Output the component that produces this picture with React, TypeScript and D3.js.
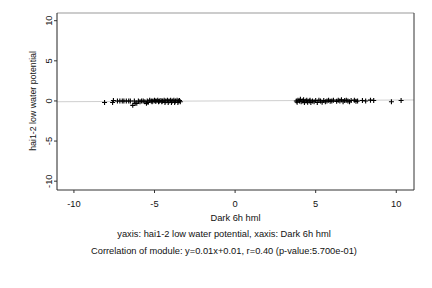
import * as d3 from 'd3';

// scatter points: x = Dark 6h hml, y = hai1-2 low water potential
const leftX = [-8.1, -7.6, -7.55, -7.3, -7.15, -7.0, -6.9, -6.75, -6.6, -6.5, -6.35, -6.25, -6.2, -6.1, -6.0, -5.9, -5.8, -5.7, -5.6, -5.5, -5.45, -5.4, -5.3, -5.2, -5.15, -5.1, -5.0, -4.95, -4.9, -4.8, -4.75, -4.7, -4.6, -4.55, -4.5, -4.4, -4.35, -4.3, -4.2, -4.15, -4.1, -4.0, -3.95, -3.9, -3.8, -3.75, -3.7, -3.6, -3.55, -3.5, -3.45, -3.4];
const leftY = [-0.2, -0.2, 0.05, 0, 0, 0, 0, 0, 0, 0, -0.55, 0, -0.3, -0.3, 0, -0.1, 0, 0, -0.1, -0.3, 0, -0.2, 0.1, 0, -0.1, 0, 0.1, -0.05, 0, 0.1, -0.1, 0, 0.05, -0.1, 0, 0.1, -0.2, 0, 0.1, -0.2, 0, 0.1, -0.2, 0, 0.1, -0.2, 0, 0.1, -0.2, 0, 0.05, -0.1];
const rightX = [3.8, 3.85, 3.9, 4.0, 4.05, 4.1, 4.2, 4.25, 4.3, 4.4, 4.45, 4.5, 4.6, 4.65, 4.7, 4.8, 4.9, 5.0, 5.1, 5.2, 5.3, 5.4, 5.5, 5.6, 5.7, 5.8, 5.9, 6.0, 6.1, 6.3, 6.4, 6.5, 6.6, 6.7, 6.8, 6.9, 7.0, 7.1, 7.2, 7.4, 7.5, 7.6, 7.9, 8.1, 8.4, 8.6, 9.7, 10.3];
const rightY = [0, -0.15, 0.1, 0, 0.2, -0.1, 0, 0.15, -0.2, 0, 0.1, -0.15, 0, 0.1, -0.2, 0, -0.1, 0.05, -0.2, 0.1, 0, -0.15, 0.05, -0.1, 0, 0.1, -0.05, 0, 0.1, -0.05, 0.1, 0, 0.15, -0.1, 0.05, 0.1, 0, -0.1, 0.05, 0.1, -0.05, 0, 0.05, 0, 0.1, 0.05, -0.1, 0.05];

const xTicks = [-10, -5, 0, 5, 10];
const yTicks = [-10, -5, 0, 5, 10];

// fitted line y = 0.01x + 0.01
const fitSlope = 0.01;
const fitIntercept = 0.01;

const xLabel = 'Dark 6h hml';
const yLabel = 'hai1-2 low water potential';
const caption1 = 'yaxis: hai1-2 low water potential, xaxis: Dark 6h hml';
const caption2 = 'Correlation of module: y=0.01x+0.01, r=0.40 (p-value:5.700e-01)';

const App = () => {
    const margin = { top: 13, right: 18, bottom: 98, left: 57 };
    const width = 432;
    const height = 288;
    const innerRight = width - margin.right;
    const innerBottom = height - margin.bottom;

    const x = d3.scaleLinear().domain([-11.05, 11.1]).range([margin.left, innerRight]);
    const y = d3.scaleLinear().domain([-11.1, 10.96]).range([innerBottom, margin.top]);

    const points = [
        ...leftX.map((v, i) => ({ x: v, y: leftY[i] })),
        ...rightX.map((v, i) => ({ x: v, y: rightY[i] })),
    ];

    const [x0, x1] = x.domain();
    const fitLine = d3.line<number>()
        .x(d => x(d))
        .y(d => y(fitSlope * d + fitIntercept));

    const font = '"Liberation Sans", Arial, sans-serif';
    const cx = (margin.left + innerRight) / 2;
    const captionX = 224;

    return (
        <svg width={width} height={height}
            style={{ position: 'absolute', left: 0, top: 0, background: '#fff' }}
            fontFamily={font} fontSize={9.3} fill="#111">
            {/* fitted line */}
            <path d={fitLine([x0, x1]) ?? ''} stroke="#cfcfcf" strokeWidth={1} fill="none" />

            {/* points */}
            {points.map((p, i) => {
                const px = x(p.x);
                const py = y(p.y);
                return (
                    <path key={i}
                        d={`M${px - 2.5},${py}H${px + 2.5}M${px},${py - 2.5}V${py + 2.5}`}
                        stroke="#000" strokeWidth={1.1} />
                );
            })}

            {/* box */}
            <line x1={margin.left} x2={innerRight} y1={margin.top} y2={margin.top} stroke="#999" />
            <line x1={margin.left} x2={innerRight} y1={innerBottom} y2={innerBottom} stroke="#333" />
            <line x1={margin.left} x2={margin.left} y1={margin.top} y2={innerBottom} stroke="#222" />
            <line x1={innerRight} x2={innerRight} y1={margin.top} y2={innerBottom} stroke="#333" />

            {/* x axis */}
            {xTicks.map(t => (
                <g key={t}>
                    <line x1={x(t)} x2={x(t)} y1={innerBottom} y2={innerBottom + 3} stroke="#333" />
                    <text x={x(t)} y={innerBottom + 17} textAnchor="middle">{t}</text>
                </g>
            ))}
            <text x={cx} y={innerBottom + 31} textAnchor="middle">{xLabel}</text>

            {/* y axis */}
            {yTicks.map(t => (
                <g key={t}>
                    <line x1={margin.left - 3} x2={margin.left} y1={y(t)} y2={y(t)} stroke="#333" />
                    <text transform={`translate(${margin.left - 5},${y(t)}) rotate(-90)`}
                        textAnchor="middle">{t}</text>
                </g>
            ))}
            <text transform={`translate(${margin.left - 21},${y(0)}) rotate(-90)`}
                textAnchor="middle" fontSize={8.8}>{yLabel}</text>

            {/* captions */}
            <text x={captionX} y={innerBottom + 47} textAnchor="middle">{caption1}</text>
            <text x={captionX} y={innerBottom + 64} textAnchor="middle">{caption2}</text>
        </svg>
    );
};

export default App;
